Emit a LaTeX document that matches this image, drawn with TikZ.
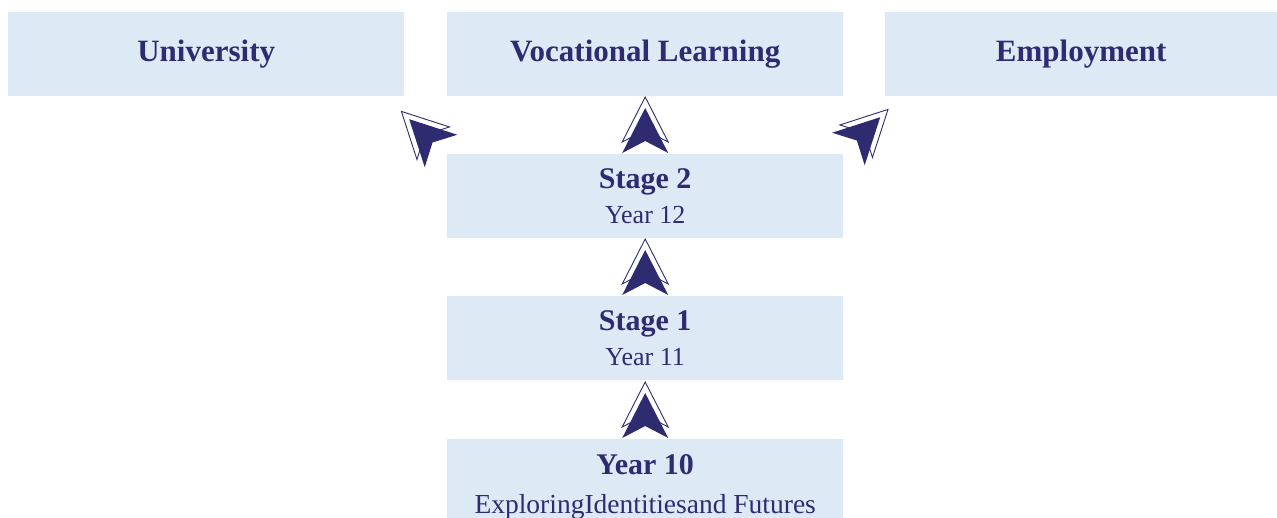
\documentclass[tikz,border=0pt]{standalone}
\usepackage{fontspec}
\setmainfont{Liberation Serif}
\usetikzlibrary{calc}
\definecolor{navy}{HTML}{2E2B70}
\definecolor{boxblue}{HTML}{DDEAF6}
\tikzset{
  box/.style={fill=boxblue, minimum width=396pt, minimum height=84pt, inner sep=0pt,
    text=navy, align=center, anchor=north west},
  titlefont/.style={font=\fontsize{31}{36}\selectfont\bfseries},
  twoline/.style={font=\fontsize{26}{35}\selectfont},
  pics/navarrow/.style={code={
    \draw[navy, fill=white, line width=0.9pt] (0,-56) -- (23,-11) -- (0,-23) -- (-23,-11) -- cycle;
    \fill[navy] (0,-45) -- (23,0) -- (0,-12) -- (-23,0) -- cycle;
  }}
}
\begin{document}
\begin{tikzpicture}[x=1pt,y=-1pt]
\useasboundingbox (0,0) rectangle (1277,517);
\node[box, titlefont] (uni) at (8,12) {University};
\node[box, titlefont] (voc) at (447,12) {Vocational Learning};
\node[box, titlefont, minimum width=392pt] (emp) at (885,12) {Employment};
\node[box, twoline] (s2) at (447,154) {{\fontsize{30}{35}\selectfont\bfseries Stage 2}\\Year 12};
\node[box, twoline] (s1) at (447,296) {{\fontsize{30}{35}\selectfont\bfseries Stage 1}\\Year 11};
\node[box, twoline, minimum height=96pt] (y10) at (447,439) {{\fontsize{30}{35}\selectfont\bfseries Year 10}\\[4pt]{\fontsize{27.5}{35}\selectfont ExploringIdentitiesand Futures}};
\pic at ($(s2.north)+(0,-1)$) {navarrow};
\pic at ($(s1.north)+(0,-1)$) {navarrow};
\pic at ($(y10.north)+(0,-1)$) {navarrow};
\pic[rotate=45] at ($(s2.north west)+(-6,-3)$) {navarrow};
\pic[rotate=-45] at ($(s2.north east)+(5,-5)$) {navarrow};
\end{tikzpicture}
\end{document}
